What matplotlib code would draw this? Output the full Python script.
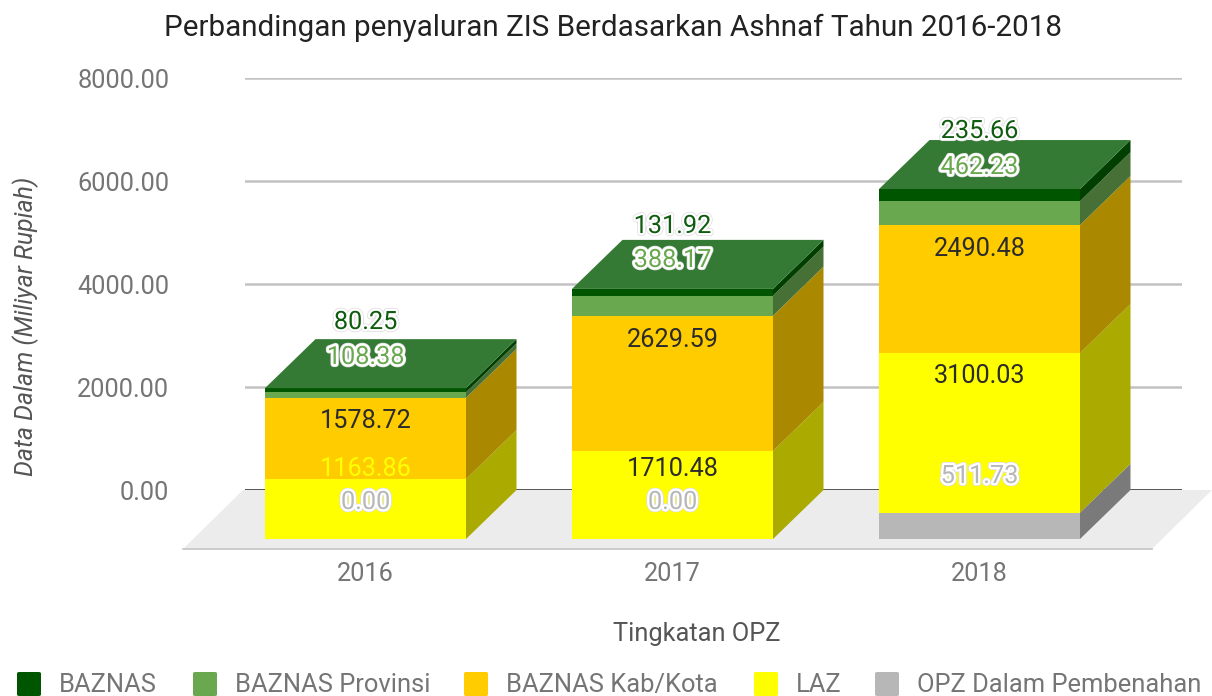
import matplotlib
matplotlib.use("Agg")
import matplotlib.pyplot as plt
import matplotlib.patheffects as pe
from matplotlib.patches import Polygon, Rectangle, FancyBboxPatch

plt.rcParams['font.family'] = ['Roboto', 'DejaVu Sans']

years = ['2016', '2017', '2018']
opz = [0.00, 0.00, 511.73]
laz = [1163.86, 1710.48, 3100.03]
kabkota = [1578.72, 2629.59, 2490.48]
provinsi = [108.38, 388.17, 462.23]
baznas = [80.25, 131.92, 235.66]
series_names = ['OPZ Dalam Pembenahan', 'LAZ', 'BAZNAS Kab/Kota', 'BAZNAS Provinsi', 'BAZNAS']
series_values = [opz, laz, kabkota, provinsi, baznas]
y_ticks = [0, 2000, 4000, 6000, 8000]

front_colors = ['#b7b7b7', '#ffff00', '#ffcc00', '#6aa84f', '#005500']
side_colors = ['#7a7a7a', '#aaaa00', '#aa8800', '#467036', '#003f00']
top_color = '#347a34'
label_colors = [['#b7b7b7', '#ffff00', '#2b2b2b', '#6aa84f', '#0f5c0f'],
                ['#b7b7b7', '#2b2b2b', '#2b2b2b', '#6aa84f', '#0f5c0f'],
                ['#b7b7b7', '#2b2b2b', '#2b2b2b', '#6aa84f', '#0f5c0f']]
label_halo = [[True, False, False, True, True],
              [True, False, False, True, True],
              [True, False, False, True, True]]
label_rows_px = [[502, 469, 421, 357, 322],
                 [502, 469, 340, 260, 226],
                 [476, 376, 249, 167, 131]]

W, H = 1212, 696
fig = plt.figure(figsize=(W / 100, H / 100), dpi=100, facecolor='white')
L, R, T, B = 245, 1182, 78.3, 490
ax = fig.add_axes([L / W, 1 - B / H, (R - L) / W, (B - T) / H])
ppx = (B - T) / 8000        # pixels per value unit
step = 307.0                # pixels per category
c0 = 416.0
ax.set_ylim(0, 8000)
ax.set_xlim((L - c0) / step, (R - c0) / step)
for s in ax.spines.values():
    s.set_visible(False)
ax.patch.set_visible(False)

dx = 50.5 / step            # bar depth, category units
dy = 49.0 / ppx             # bar depth, value units
bw = 201.0 / step
fx, fy = 60.0 / step, 59.0 / ppx


def v_of(py):
    return (B - py) / ppx


def xc_of(px):
    return (px - c0) / step


# floor
ax.add_patch(Polygon([(xc_of(243), 0), (xc_of(1212), 0), (xc_of(1152), -fy), (xc_of(183), -fy)],
                     closed=True, fc='#ececec', ec='none', clip_on=False, zorder=1))
ax.plot([xc_of(183), xc_of(1152)], [-fy, -fy], color='#c4c4c4', lw=1.2, clip_on=False, zorder=1.1)

# gridlines and baseline
ax.set_yticks(y_ticks, [f'{t:.2f}' for t in y_ticks])
ax.grid(axis='y', color='#c2c2c2', lw=1.8, zorder=0.5)
ax.set_axisbelow(True)
ax.axhline(0, color='#333333', lw=1.8, zorder=1.2)
ax.tick_params(axis='y', length=0, pad=54.5, labelsize=18.3, labelcolor='#757575')
for i_lab, lab in enumerate(ax.get_yticklabels()):
    lab.set_verticalalignment('center_baseline')

# bars
for i in range(len(years)):
    base = 0.0
    x0, x1 = i - bw / 2, i + bw / 2
    fl, fr = x0 - dx, x1 - dx
    for k in range(len(series_values)):
        v = series_values[k][i]
        if v > 0:
            top = base + v
            ax.add_patch(Rectangle((fl, base - dy), bw, v, fc=front_colors[k], ec='none',
                                   clip_on=False, zorder=3))
            ax.add_patch(Polygon([(fr, base - dy), (x1, base), (x1, top), (fr, top - dy)],
                                 closed=True, fc=side_colors[k], ec='none', clip_on=False, zorder=3))
            base = top
    ax.add_patch(Polygon([(fl, base - dy), (x0, base), (x1, base), (fr, base - dy)],
                         closed=True, fc=top_color, ec='none', clip_on=False, zorder=3.1))
    # value labels
    for k in range(len(series_values)):
        t = ax.text(i - dx, v_of(label_rows_px[i][k]), f'{series_values[k][i]:.2f}',
                    ha='center', va='center', fontsize=18.2, color=label_colors[i][k],
                    clip_on=False, zorder=5)
        if label_halo[i][k]:
            t.set_path_effects([pe.Stroke(linewidth=4.4, foreground='#dcdcdc'),
                                pe.Stroke(linewidth=3.4, foreground='white'),
                                pe.Normal()])

# x axis
ax.set_xticks([i - dx for i in range(len(years))], years)
ax.tick_params(axis='x', length=0, pad=52, labelsize=18.2, labelcolor='#757575')
ax.set_xlabel('Tingkatan OPZ', fontsize=18.3, color='#555555')
ax.xaxis.set_label_coords((697 - L) / (R - L), -(634 - B) / (B - T), transform=ax.transAxes)
ax.xaxis.label.set_verticalalignment('center')

ax.set_ylabel('Data Dalam (Miliyar Rupiah)', fontsize=17.9, style='italic', color='#555555')
ax.yaxis.set_label_coords((26 - L) / (R - L), (B - 326) / (B - T), transform=ax.transAxes)
ax.yaxis.label.set_verticalalignment('center')

fig.text(612.5 / W, 1 - 28 / H, 'Perbandingan penyaluran ZIS Berdasarkan Ashnaf Tahun 2016-2018',
         ha='center', va='center', fontsize=21.3, color='#222222')

# legend row
legend_order = [4, 3, 2, 1, 0]
legend_px = [17, 193, 464, 754, 875]
for k, px in zip(legend_order, legend_px):
    fig.add_artist(FancyBboxPatch((px / W, 1 - 696 / H), 24 / W, 24 / H,
                                  boxstyle='round,pad=0,rounding_size=0.002',
                                  transform=fig.transFigure, fc=front_colors[k], ec='none'))
    fig.text((px + 42) / W, 1 - 685 / H, series_names[k], ha='left', va='center',
             fontsize=18.4, color='#757575')

fig.savefig('out.png', dpi=100)
